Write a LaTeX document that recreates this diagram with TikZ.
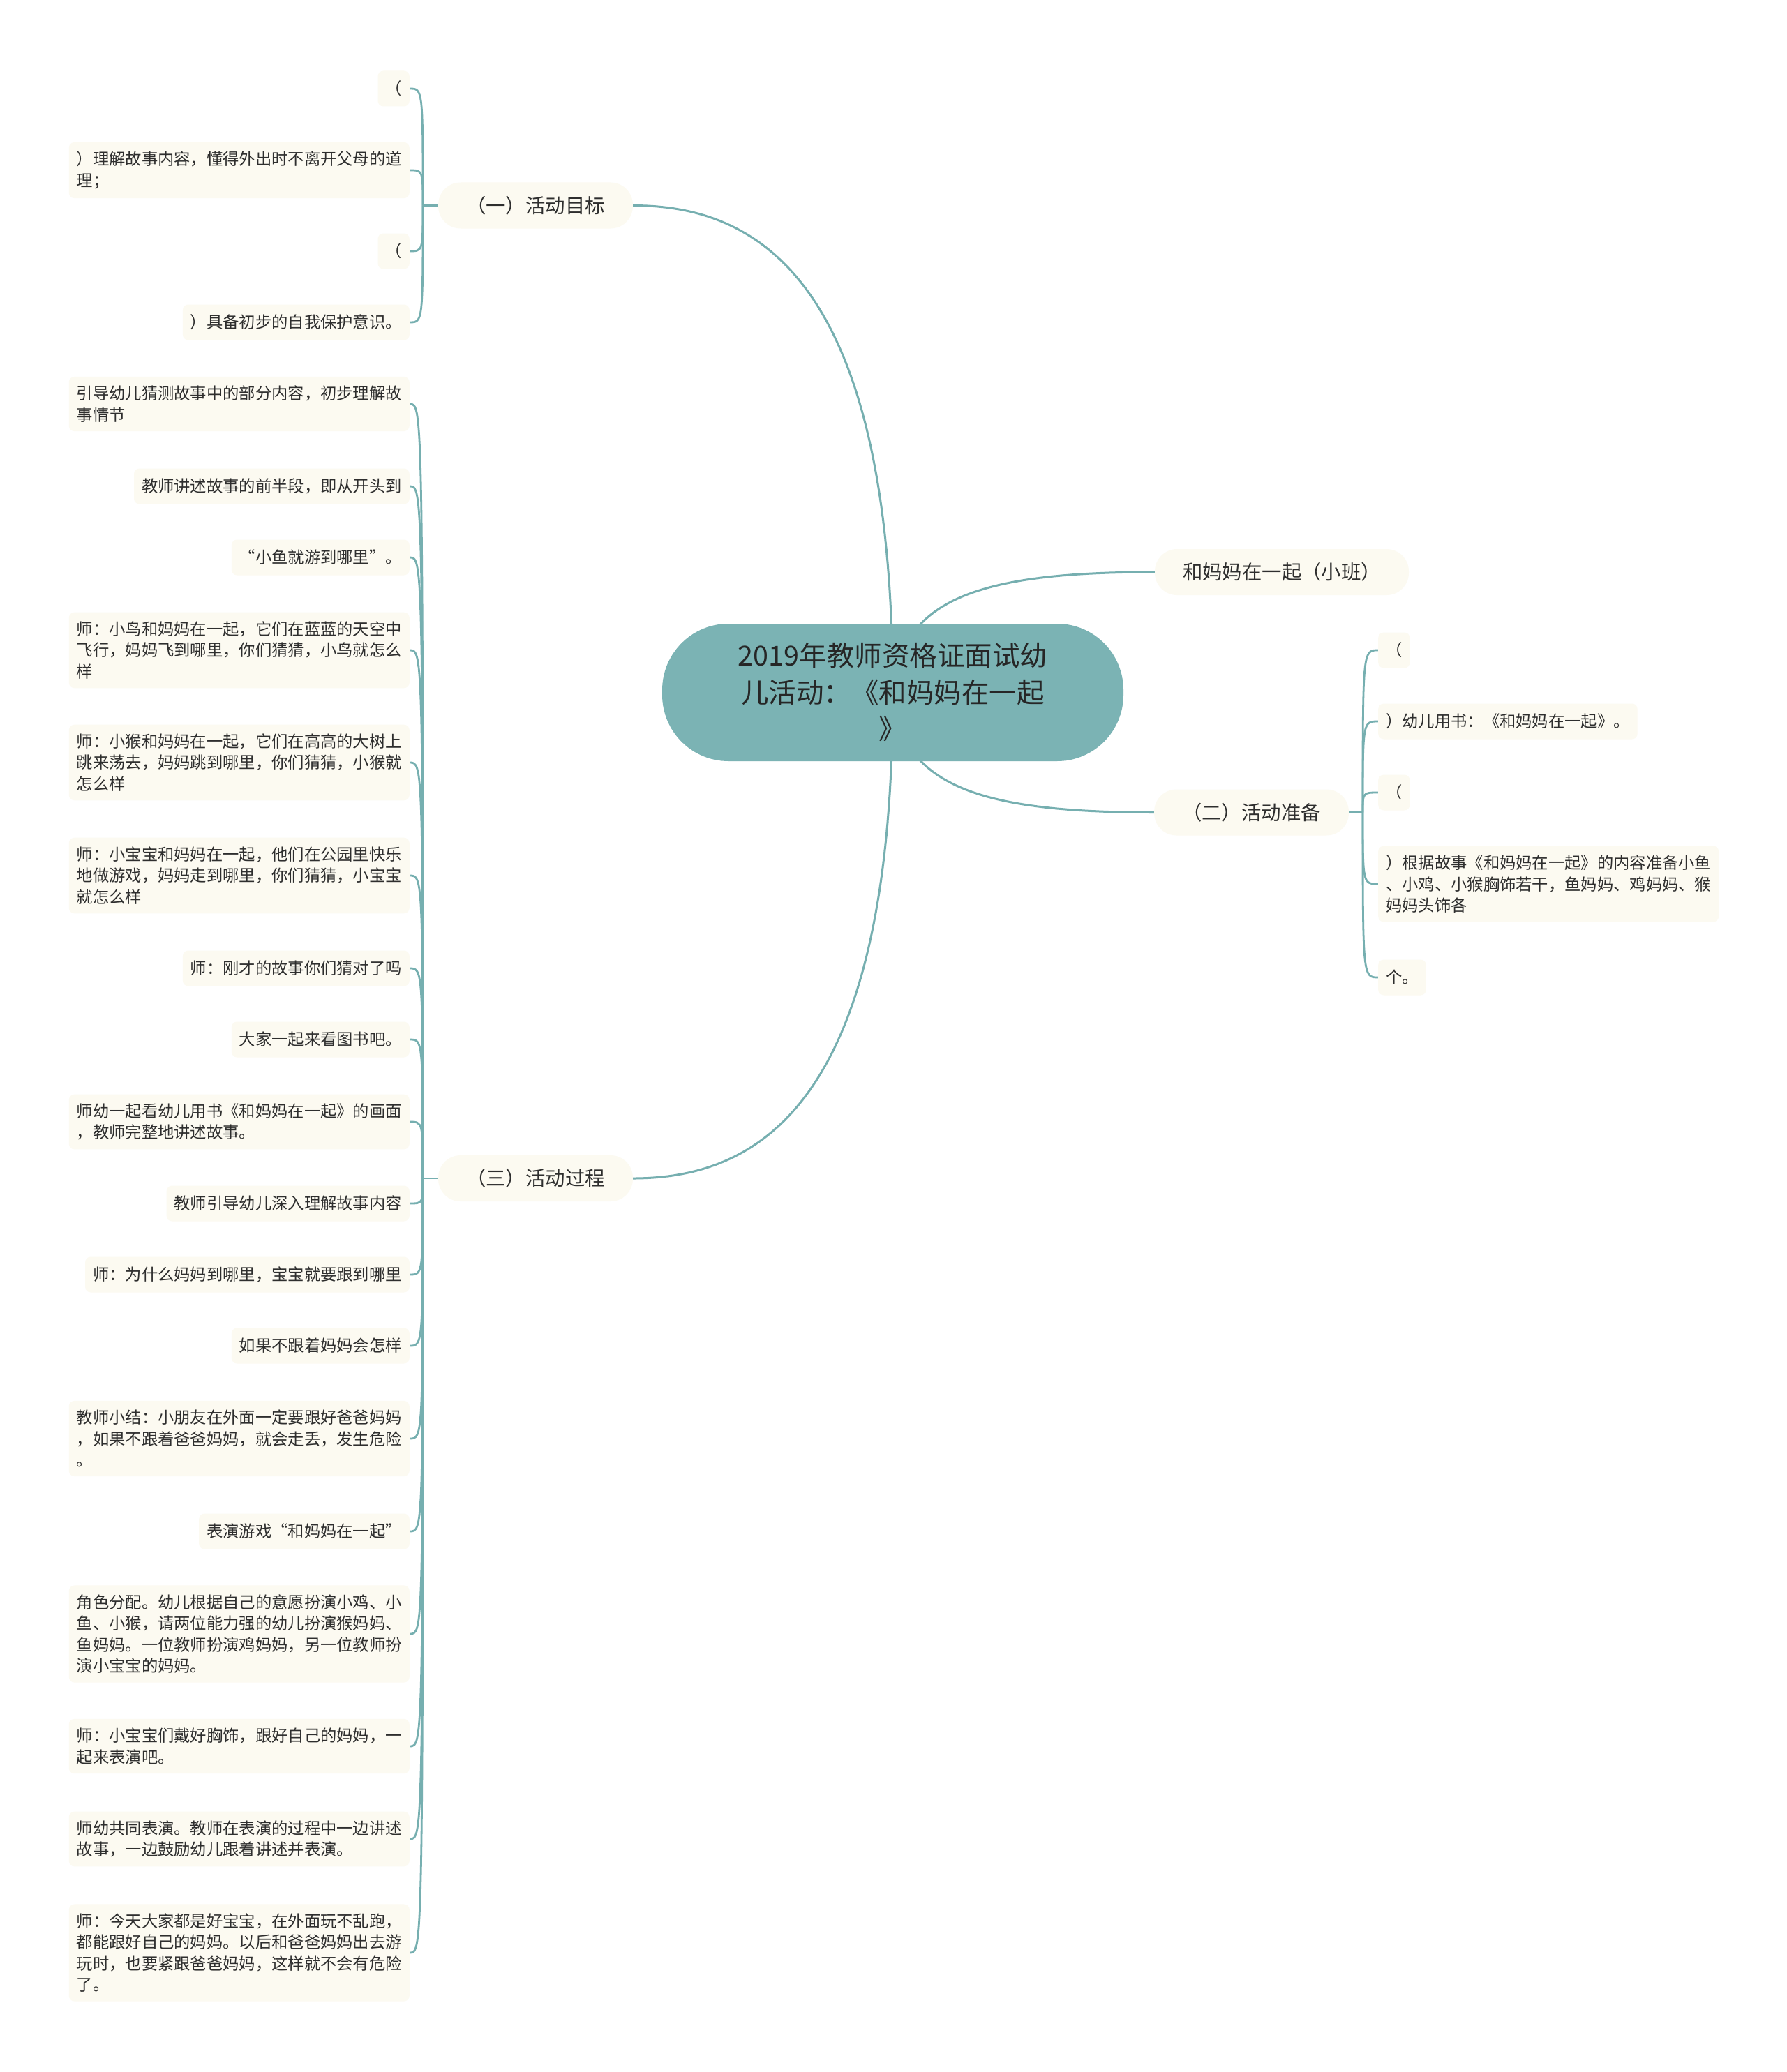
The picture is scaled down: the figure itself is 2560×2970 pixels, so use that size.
\documentclass[tikz,border=0pt]{standalone}
\usepackage{fontspec}
\setmainfont{Noto Sans CJK SC}
\usetikzlibrary{backgrounds}
\definecolor{edgec}{HTML}{76AFB0}
\definecolor{rootfill}{HTML}{7BB3B4}
\definecolor{leaffill}{HTML}{FCFAF1}
\definecolor{textc}{HTML}{2E2E2E}
\definecolor{roottext}{HTML}{262626}
\tikzset{
  leaf/.style={fill=leaffill, rounded corners=8pt, inner xsep=11pt, inner ysep=13pt,
    minimum height=51pt, align=left, text=textc, font=\fontsize{23.3}{30.5}\selectfont},
  leafR/.style={leaf, anchor=east},
  leafL/.style={leaf, anchor=west},
  topic/.style={fill=leaffill, rounded corners=32pt, minimum height=66pt, inner xsep=40pt,
    text=textc, font=\fontsize{28.4}{34}\selectfont},
  rootnode/.style={fill=rootfill, rounded corners=95pt, minimum width=661pt, minimum height=197pt,
    align=center, text=roottext, font=\fontsize{39.5}{52.5}\selectfont},
  link/.style={draw=edgec, line width=3pt},
  sublink/.style={draw=edgec, line width=2.8pt},
}
\begin{document}
\begin{tikzpicture}[x=1pt,y=-1pt]
\useasboundingbox (0,0) rectangle (2560,2970);

% root
\node[rootnode] (root) at (1279.5,992.5) {2019年教师资格证面试幼\\儿活动：《和妈妈在一起\\》};

% level 1
\node[topic] (g1) at (767.5,294.5) {（一）活动目标};
\node[topic] (g0) at (1837,820) {和妈妈在一起（小班）};
\node[topic] (g2) at (1793.5,1164.5) {（二）活动准备};
\node[topic] (g3) at (767.5,1689) {（三）活动过程};

\coordinate (j1) at (606,294.5);
\coordinate (j2) at (1953,1164.5);
\coordinate (j3) at (606,1689);

% children of (一)
\node[leafR] (a1) at (587,127) {（};
\node[leafR] (a2) at (587,244) {）理解故事内容，懂得外出时不离开父母的道\\理；};
\node[leafR] (a3) at (587,360) {（};
\node[leafR] (a4) at (587,462) {）具备初步的自我保护意识。};

% children of (二)
\node[leafL] (b1) at (1975,932) {（};
\node[leafL] (b2) at (1975,1034) {）幼儿用书：《和妈妈在一起》。};
\node[leafL] (b3) at (1975,1136) {（};
\node[leafL] (b4) at (1975,1267) {）根据故事《和妈妈在一起》的内容准备小鱼\\、小鸡、小猴胸饰若干，鱼妈妈、鸡妈妈、猴\\妈妈头饰各};
\node[leafL] (b5) at (1975,1401) {个。};

% children of (三)
\node[leafR] (c1) at (587,579) {引导幼儿猜测故事中的部分内容，初步理解故\\事情节};
\node[leafR] (c2) at (587,697) {教师讲述故事的前半段，即从开头到};
\node[leafR] (c3) at (587,799) {“小鱼就游到哪里”。};
\node[leafR] (c4) at (587,932) {师：小鸟和妈妈在一起，它们在蓝蓝的天空中\\飞行，妈妈飞到哪里，你们猜猜，小鸟就怎么\\样};
\node[leafR] (c5) at (587,1093) {师：小猴和妈妈在一起，它们在高高的大树上\\跳来荡去，妈妈跳到哪里，你们猜猜，小猴就\\怎么样};
\node[leafR] (c6) at (587,1255) {师：小宝宝和妈妈在一起，他们在公园里快乐\\地做游戏，妈妈走到哪里，你们猜猜，小宝宝\\就怎么样};
\node[leafR] (c7) at (587,1388) {师：刚才的故事你们猜对了吗};
\node[leafR] (c8) at (587,1490) {大家一起来看图书吧。};
\node[leafR] (c9) at (587,1608) {师幼一起看幼儿用书《和妈妈在一起》的画面\\，教师完整地讲述故事。};
\node[leafR] (c10) at (587,1725) {教师引导幼儿深入理解故事内容};
\node[leafR] (c11) at (587,1827) {师：为什么妈妈到哪里，宝宝就要跟到哪里};
\node[leafR] (c12) at (587,1929) {如果不跟着妈妈会怎样};
\node[leafR] (c13) at (587,2062) {教师小结：小朋友在外面一定要跟好爸爸妈妈\\，如果不跟着爸爸妈妈，就会走丢，发生危险\\。};
\node[leafR] (c14) at (587,2195) {表演游戏“和妈妈在一起”};
\node[leafR] (c15) at (587,2342) {角色分配。幼儿根据自己的意愿扮演小鸡、小\\鱼、小猴，请两位能力强的幼儿扮演猴妈妈、\\鱼妈妈。一位教师扮演鸡妈妈，另一位教师扮\\演小宝宝的妈妈。};
\node[leafR] (c16) at (587,2503) {师：小宝宝们戴好胸饰，跟好自己的妈妈，一\\起来表演吧。};
\node[leafR] (c17) at (587,2636) {师幼共同表演。教师在表演的过程中一边讲述\\故事，一边鼓励幼儿跟着讲述并表演。};
\node[leafR] (c18) at (587,2799) {师：今天大家都是好宝宝，在外面玩不乱跑，\\都能跟好自己的妈妈。以后和爸爸妈妈出去游\\玩时，也要紧跟爸爸妈妈，这样就不会有危险\\了。};

\begin{scope}[on background layer]
  \fill[white] (0,0) rectangle (2560,2970);
  % root to level 1
  \draw[link] (root.center) .. controls (1279,420) and (1100,294.5) .. (g1.east);
  \draw[link] (root.center) .. controls (1279,1565) and (1100,1689) .. (g3.east);
  \draw[link] (root.center) .. controls (1290,860) and (1400,820) .. (g0.west);
  \draw[link] (root.center) .. controls (1290,1125) and (1400,1164.5) .. (g2.west);
  % level 1 to junctions
  \draw[sublink] (g1.west) -- (j1);
  \draw[sublink] (g2.east) -- (j2);
  \draw[sublink] (g3.west) -- (j3);
  \foreach \n in {a1,a2,a3,a4}
    \draw[sublink] (j1) .. controls (j1 |- \n.east) .. (\n.east);
  \foreach \n in {b1,b2,b3,b4,b5}
    \draw[sublink] (j2) .. controls (j2 |- \n.west) .. (\n.west);
  \foreach \n in {c1,c2,c3,c4,c5,c6,c7,c8,c9,c10,c11,c12,c13,c14,c15,c16,c17,c18}
    \draw[sublink] (j3) .. controls (j3 |- \n.east) .. (\n.east);
\end{scope}
\end{tikzpicture}
\end{document}
